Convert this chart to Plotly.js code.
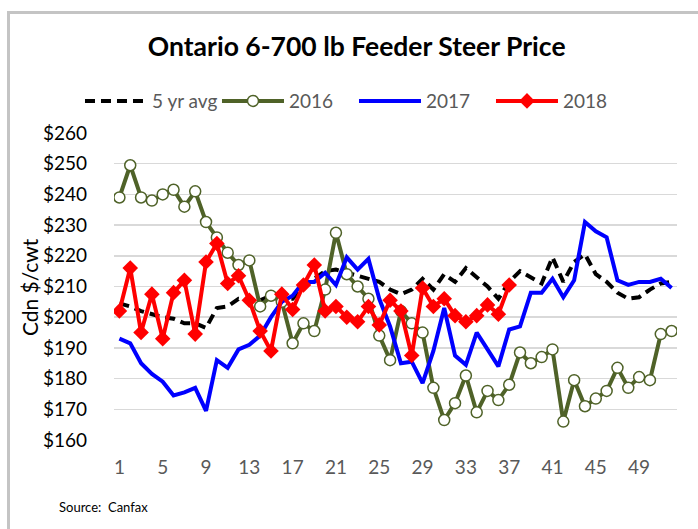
<!DOCTYPE html>
<html>
<head>
<meta charset="utf-8">
<script src="https://cdn.plot.ly/plotly-3.0.1.min.js"></script>
<style>
  html, body { margin: 0; padding: 0; background: #fff; }
  #wrap { position: relative; width: 698px; height: 529px; overflow: hidden; }
  #chart { position: absolute; left: 0; top: 0; width: 698px; height: 529px; }
  #frame { position: absolute; left: 7px; top: 11px; width: 720px; height: 560px;
           border: 3px solid #c4c4c4; box-sizing: border-box; pointer-events: none; }
</style>
</head>
<body>
<div id="wrap">
  <div id="chart"></div>
  <div id="frame"></div>
</div>
<script>
// Week numbers (x categories)
var weeks = [1,2,3,4,5,6,7,8,9,10,11,12,13,14,15,16,17,18,19,20,21,22,23,24,25,26,
             27,28,29,30,31,32,33,34,35,36,37,38,39,40,41,42,43,44,45,46,47,48,49,50,51,52];
var xTickVals = [1,5,9,13,17,21,25,29,33,37,41,45,49];
var yTickVals = [160,170,180,190,200,210,220,230,240,250,260];
var yTickText = ['$160','$170','$180','$190','$200','$210','$220','$230','$240','$250','$260'];

// Series values (Cdn $/cwt)
var avg5 = [204.5,203.5,202,201,200,199.5,198,198,196.5,203,
            203.5,206,205.5,205.5,207,206,206,210,212.5,215,
            215.5,214.5,213.5,212.5,211.5,209,207.5,209,212.5,209,
            214,211.5,216,213,210,206,211.5,215,213,211,
            219.5,211.5,218,220.5,214,211.5,208,206,206.5,209,
            211,211.5];
var y2016 = [239,249.5,239,238,240,241.5,236,241,231,226,
             221,217,218.5,203.5,207,205,191.5,198,195.5,209,
             227.5,214,210,206,194,186,202,198,195,177,
             166.5,172,181,169,176,173,178,188.5,185,187,
             189.5,166,179.5,171,173.5,176,183.5,177,180.5,179.5,
             194.5,195.5];
var y2017 = [193,191.5,185,181.5,179,174.5,175.5,177,169.5,186,
             183.5,189.5,191,194,200,205,207,211.5,211.5,214.5,
             210.5,219.5,215.5,219,206,197,185,185.5,178.5,189,
             203,187.5,184.5,195,189.5,184,196,197,208,208,
             212.5,206.5,212,231,228,226,212,210.5,211.5,211.5,
             212.5,209.5];
var y2018 = [202,216,195,207.5,193,208,212,194.5,218,224,
             211,213.5,205.5,195.5,189,207.5,202.5,210.5,217,202,
             203.5,200,198.5,203.5,197.5,205.5,202,187.5,209.5,203.5,
             206,200.5,198.5,200.5,204,201,210.5];

var FONT = 'Lato, "Open Sans", sans-serif';

var traces = [
  { name: '5 yr avg', x: weeks, y: avg5, type: 'scatter', mode: 'lines',
    line: { color: '#000000', width: 4, dash: '10px,6px' } },
  { name: '2016', x: weeks, y: y2016, type: 'scatter', mode: 'lines+markers',
    line: { color: '#4f6228', width: 4 },
    marker: { symbol: 'circle', size: 11, color: '#ffffff', line: { color: '#4f6228', width: 1.5 } } },
  { name: '2017', x: weeks, y: y2017, type: 'scatter', mode: 'lines',
    line: { color: '#0000ff', width: 4 } },
  { name: '2018', x: weeks.slice(0, y2018.length), y: y2018, type: 'scatter', mode: 'lines+markers',
    line: { color: '#ff0000', width: 4 },
    marker: { symbol: 'diamond', size: 12, color: '#ff0000' } }
];

var layout = {
  width: 698, height: 529,
  margin: { l: 114, r: 21, t: 133, b: 89 },
  paper_bgcolor: '#ffffff', plot_bgcolor: '#ffffff',
  font: { family: FONT, size: 16, color: '#000000' },
  title: { text: '<b>Ontario 6-700 lb Feeder Steer Price</b>',
           font: { family: FONT, size: 26.5, color: '#000000' },
           xref: 'container', x: 0.511, xanchor: 'center',
           yref: 'container', y: 0.911, yanchor: 'middle' },
  showlegend: true,
  legend: { orientation: 'h', xref: 'container', x: 0.1146, xanchor: 'left',
            yref: 'container', y: 0.809, yanchor: 'middle',
            itemwidth: 62, entrywidth: 60, entrywidthmode: 'pixels',
            font: { family: FONT, size: 19, color: '#595959' }, traceorder: 'normal' },
  xaxis: { range: [0.5, 52.5], tickmode: 'array', tickvals: xTickVals,
           showgrid: false, zeroline: false, showline: false, ticks: '',
           tickfont: { family: FONT, size: 19, color: '#595959' }, ticklabelstandoff: 14,
           fixedrange: true },
  yaxis: { range: [160, 260], tickmode: 'array', tickvals: yTickVals, ticktext: yTickText,
           showgrid: true, gridcolor: '#d9d9d9', gridwidth: 1.5, zeroline: false,
           showline: false, ticks: '', ticklabelstandoff: 26,
           tickfont: { family: FONT, size: 19, color: '#000000' }, fixedrange: true },
  annotations: [
    { text: 'Cdn $/cwt', xref: 'paper', yref: 'paper', x: -0.151, y: 0.498,
      textangle: -90, showarrow: false, xanchor: 'center', yanchor: 'middle',
      font: { family: FONT, size: 21, color: '#000000' } },
    { text: 'Source:  Canfax', xref: 'paper', yref: 'paper', x: -0.101, y: -0.218,
      showarrow: false, xanchor: 'left', yanchor: 'middle',
      font: { family: FONT, size: 13, color: '#000000' } }
  ],
  hovermode: false
};

Plotly.newPlot('chart', traces, layout, { displayModeBar: false, staticPlot: true });
</script>
</body>
</html>
